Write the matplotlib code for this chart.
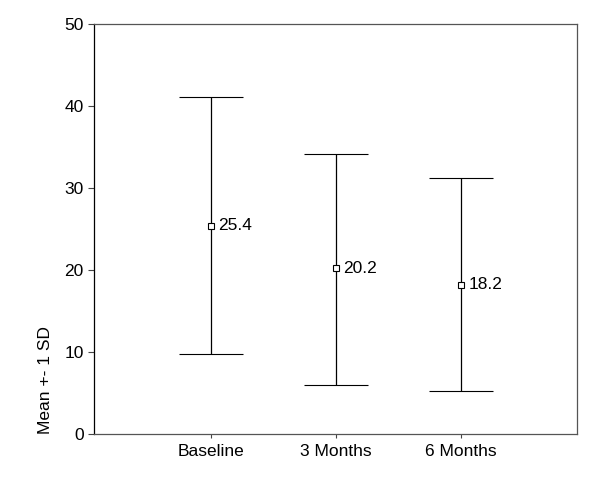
import numpy as np
import matplotlib
matplotlib.use("Agg")
import matplotlib.pyplot as plt

plt.rcParams['font.family'] = ['Liberation Sans', 'DejaVu Sans']

groups = ["Baseline", "3 Months", "6 Months"]
means = [25.4, 20.2, 18.2]
upper = [41.1, 34.2, 31.2]
lower = [9.7, 6.0, 5.2]

x = np.arange(1, len(groups) + 1)
means = np.array(means)
err = [means - np.array(lower), np.array(upper) - means]

fig = plt.figure(figsize=(6, 4.79), dpi=100)
ax = fig.add_axes([0.157, 0.094, 0.805, 0.856])

ax.errorbar(x, means, yerr=err, fmt='s', color='black', mfc='white', mec='black',
            ms=5, mew=0.8, ecolor='black', elinewidth=0.9, capsize=23, capthick=0.9)

for xi, m in zip(x, means):
    ax.text(xi + 0.06, m, "%.1f" % m, va='center', ha='left', fontsize=12.5)

ax.set_xlim(0.07, 3.93)
ax.set_ylim(0, 50)
ax.set_yticks([0, 10, 20, 30, 40, 50])
ax.set_xticks(x)
ax.set_xticklabels(groups)
ax.tick_params(axis='both', labelsize=12.5, length=4, width=0.8, color='#444444')
ax.tick_params(axis='x', length=3, pad=4)
ax.set_ylabel("Mean +- 1 SD", fontsize=12.5, loc='bottom')
ax.yaxis.set_label_coords(-0.085, 0.0)

for s in ['top', 'right', 'bottom']:
    ax.spines[s].set_color('#555555')
ax.spines['left'].set_color('black')
for s in ax.spines.values():
    s.set_linewidth(0.9)

fig.savefig("out.png", dpi=100)
